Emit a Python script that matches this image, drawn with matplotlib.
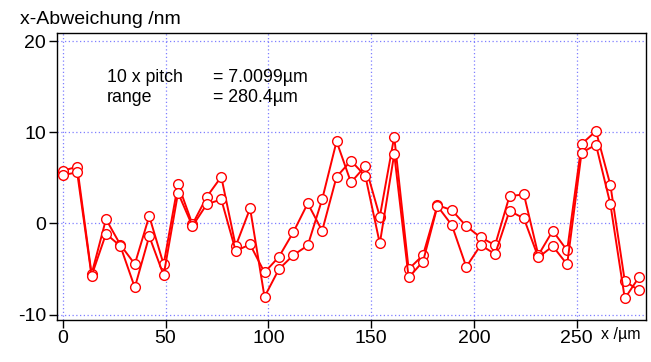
import numpy as np
import matplotlib
matplotlib.use("Agg")
import matplotlib.pyplot as plt

plt.rcParams['font.family'] = ['Liberation Sans', 'DejaVu Sans']

pitch = 7.0099
n_points = 41
x_um = [i * pitch for i in range(n_points)]

series_a = [5.78, 6.22, -5.57, 0.47, -2.35, -4.47, 0.80, -4.50, 4.32, -0.10,
            2.93, 5.12, -2.49, 1.65, -8.06, -5.02, -3.48, -2.42, 2.64, 9.01,
            4.50, 6.30, 0.73, 9.52, -5.02, -3.48, 2.00, 1.46, -0.30, -1.54,
            -2.38, 3.00, 3.18, -3.48, -0.81, -2.97, 8.71, 10.14, 4.21, -6.34,
            -7.36]
series_b = [5.31, 5.60, -5.75, -1.14, -2.49, -7.03, -1.40, -5.68, 3.36, -0.30,
            2.12, 2.63, -3.01, -2.31, -5.38, -3.67, -0.96, 2.20, -0.81, 5.12,
            6.88, 5.20, -2.20, 7.62, -5.93, -4.18, 1.90, -0.19, -4.77, -2.38,
            -3.37, 1.38, 0.55, -3.74, -2.49, -4.50, 7.76, 8.64, 2.12, -8.24,
            -5.86]

x_ticks = [0, 50, 100, 150, 200, 250]
y_ticks = [-10, 0, 10, 20]

W, H = 651, 362
fig = plt.figure(figsize=(W / 100, H / 100), dpi=100)
ax = fig.add_axes([57 / W, 1 - 320 / H, (646 - 57) / W, (320 - 33) / H])

for s in (series_a, series_b):
    ax.plot(x_um, s, color='#ff0000', lw=1.4, marker='o', ms=7.0,
            mfc='white', mec='#ff0000', mew=1.0, zorder=3)

ax.set_xlim(-2.8, 283.7)
ax.set_ylim(-10.6, 20.9)
ax.set_xticks(x_ticks)
ax.set_yticks(y_ticks)
ax.set_xticklabels([str(t) for t in x_ticks])
ax.set_yticklabels([str(t) for t in y_ticks])
ax.tick_params(direction='out', length=6, width=1.0, labelsize=14, pad=2)
ax.tick_params(axis='x', pad=1)
ax.grid(True, color='#7f7fff', linestyle=(0, (1, 2)), linewidth=0.9)
for sp in ax.spines.values():
    sp.set_linewidth(1.0)
    sp.set_color('black')

fig.text(20 / W, 1 - 24 / H, 'x-Abweichung /nm', fontsize=14, va='baseline', ha='left')
fig.text(601 / W, 1 - 339 / H, 'x /µm', fontsize=11.5, va='baseline', ha='left')

fig.text(107 / W, 1 - 81.5 / H, '10 x pitch', fontsize=12.8, va='baseline')
fig.text(213 / W, 1 - 81.5 / H, '= 7.0099µm', fontsize=12.8, va='baseline')
fig.text(107 / W, 1 - 101.5 / H, 'range', fontsize=12.8, va='baseline')
fig.text(213 / W, 1 - 101.5 / H, '= 280.4µm', fontsize=12.8, va='baseline')

fig.savefig('out.png', dpi=100)
